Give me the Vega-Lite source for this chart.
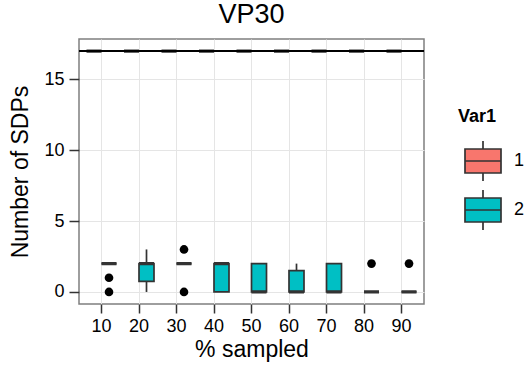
{
  "$schema": "https://vega.github.io/schema/vega-lite/v6.json",
  "width": 345,
  "height": 265,
  "autosize": {"type": "none"},
  "padding": {"left": 79, "top": 39, "right": 101, "bottom": 68},
  "background": "white",
  "title": {"text": "VP30", "fontSize": 27, "font": "Liberation Sans", "fontWeight": "normal", "color": "black", "anchor": "middle", "offset": 10},
  "datasets": {
    "box": [
      {"pct": "10", "Var1": "1", "lower": 17, "q1": 17, "median": 17, "q3": 17, "upper": 17},
      {"pct": "20", "Var1": "1", "lower": 17, "q1": 17, "median": 17, "q3": 17, "upper": 17},
      {"pct": "30", "Var1": "1", "lower": 17, "q1": 17, "median": 17, "q3": 17, "upper": 17},
      {"pct": "40", "Var1": "1", "lower": 17, "q1": 17, "median": 17, "q3": 17, "upper": 17},
      {"pct": "50", "Var1": "1", "lower": 17, "q1": 17, "median": 17, "q3": 17, "upper": 17},
      {"pct": "60", "Var1": "1", "lower": 17, "q1": 17, "median": 17, "q3": 17, "upper": 17},
      {"pct": "70", "Var1": "1", "lower": 17, "q1": 17, "median": 17, "q3": 17, "upper": 17},
      {"pct": "80", "Var1": "1", "lower": 17, "q1": 17, "median": 17, "q3": 17, "upper": 17},
      {"pct": "90", "Var1": "1", "lower": 17, "q1": 17, "median": 17, "q3": 17, "upper": 17},
      {"pct": "10", "Var1": "2", "lower": 2, "q1": 2, "median": 2, "q3": 2, "upper": 2},
      {"pct": "20", "Var1": "2", "lower": 0, "q1": 0.75, "median": 2, "q3": 2, "upper": 3},
      {"pct": "30", "Var1": "2", "lower": 2, "q1": 2, "median": 2, "q3": 2, "upper": 2},
      {"pct": "40", "Var1": "2", "lower": 0, "q1": 0, "median": 2, "q3": 2, "upper": 2},
      {"pct": "50", "Var1": "2", "lower": 0, "q1": 0, "median": 0, "q3": 2, "upper": 2},
      {"pct": "60", "Var1": "2", "lower": 0, "q1": 0, "median": 0, "q3": 1.5, "upper": 2},
      {"pct": "70", "Var1": "2", "lower": 0, "q1": 0, "median": 0, "q3": 2, "upper": 2},
      {"pct": "80", "Var1": "2", "lower": 0, "q1": 0, "median": 0, "q3": 0, "upper": 0},
      {"pct": "90", "Var1": "2", "lower": 0, "q1": 0, "median": 0, "q3": 0, "upper": 0}
    ],
    "out": [
      {"pct": "10", "Var1": "2", "value": 1},
      {"pct": "10", "Var1": "2", "value": 0},
      {"pct": "30", "Var1": "2", "value": 3},
      {"pct": "30", "Var1": "2", "value": 0},
      {"pct": "80", "Var1": "2", "value": 2},
      {"pct": "90", "Var1": "2", "value": 2}
    ]
  },
  "config": {
    "view": {"stroke": "#7F7F7F", "strokeWidth": 1.5},
    "axis": {
      "labelFont": "Liberation Sans", "titleFont": "Liberation Sans",
      "labelFontSize": 18, "titleFontSize": 23, "titleFontWeight": "normal",
      "labelColor": "black", "titleColor": "black",
      "tickColor": "#333333", "tickWidth": 1.5, "domain": false,
      "gridColor": "#E5E5E5", "gridWidth": 1
    }
  },
  "layer": [
    {
      "data": {"name": "box"},
      "mark": {"type": "rule", "color": "#333333", "strokeWidth": 1.7},
      "encoding": {
        "x": {"field": "pct", "type": "ordinal", "title": "% sampled",
              "scale": {"paddingInner": 0, "paddingOuter": 0.1},
              "axis": {"labelAngle": 0, "tickSize": 9, "labelPadding": 4, "titlePadding": 3, "bandPosition": 0.5, "grid": true}},
        "xOffset": {"field": "Var1", "type": "nominal", "scale": {"paddingInner": 0, "paddingOuter": 0.25}},
        "y": {"field": "lower", "type": "quantitative", "title": "Number of SDPs",
              "scale": {"domain": [-0.85, 17.85], "nice": false, "zero": false},
              "axis": {
                "values": [0, 2.5, 5, 7.5, 10, 12.5, 15, 17.5],
                "format": "d",
                "labelExpr": "datum.value % 5 === 0 ? datum.label : ''",
                "tickColor": {"condition": {"test": "datum.value % 5 !== 0", "value": "transparent"}, "value": "#333333"},
                "gridColor": {"condition": {"test": "datum.value % 5 !== 0", "value": "#F5F5F5"}, "value": "#E5E5E5"},
                "tickSize": 10, "labelPadding": 5, "titlePadding": 11, "grid": true
              }},
        "y2": {"field": "upper"}
      }
    },
    {
      "data": {"name": "box"},
      "mark": {"type": "bar", "stroke": "#333333", "strokeWidth": 1.7},
      "encoding": {
        "x": {"field": "pct", "type": "ordinal"},
        "xOffset": {"field": "Var1", "type": "nominal"},
        "y": {"field": "q1", "type": "quantitative"},
        "y2": {"field": "q3"},
        "fill": {"field": "Var1", "type": "nominal",
                 "scale": {"domain": ["1", "2"], "range": ["#F8766D", "#00BFC4"]},
                 "legend": {
                   "title": "Var1", "orient": "none", "legendX": 379, "legendY": 69,
                   "symbolType": "M-0.75,-0.5H0.75V0.5H-0.75Z M-0.75,0H0.75 M0,-0.5V-0.83 M0,0.5V0.83",
                   "symbolSize": 2304, "symbolStrokeColor": "#333333", "symbolStrokeWidth": 1.7,
                   "symbolOpacity": 1, "rowPadding": 0,
                   "titleFont": "Liberation Sans", "titleFontSize": 18, "titleFontWeight": "bold", "titleColor": "black", "titlePadding": 10,
                   "labelFont": "Liberation Sans", "labelFontSize": 18, "labelColor": "black", "labelOffset": 6
                 }}
      }
    },
    {
      "data": {"name": "box"},
      "mark": {"type": "bar", "stroke": "#333333", "strokeWidth": 3.2, "fill": "transparent"},
      "encoding": {
        "x": {"field": "pct", "type": "ordinal"},
        "xOffset": {"field": "Var1", "type": "nominal"},
        "y": {"field": "median", "type": "quantitative"},
        "y2": {"field": "median"}
      }
    },
    {
      "data": {"name": "out"},
      "mark": {"type": "point", "filled": true, "color": "black", "size": 75, "opacity": 1},
      "encoding": {
        "x": {"field": "pct", "type": "ordinal"},
        "xOffset": {"field": "Var1", "type": "nominal"},
        "y": {"field": "value", "type": "quantitative"}
      }
    },
    {
      "data": {"values": [{}]},
      "mark": {"type": "rule", "color": "black", "strokeWidth": 2},
      "encoding": {"y": {"datum": 17}}
    }
  ]
}
